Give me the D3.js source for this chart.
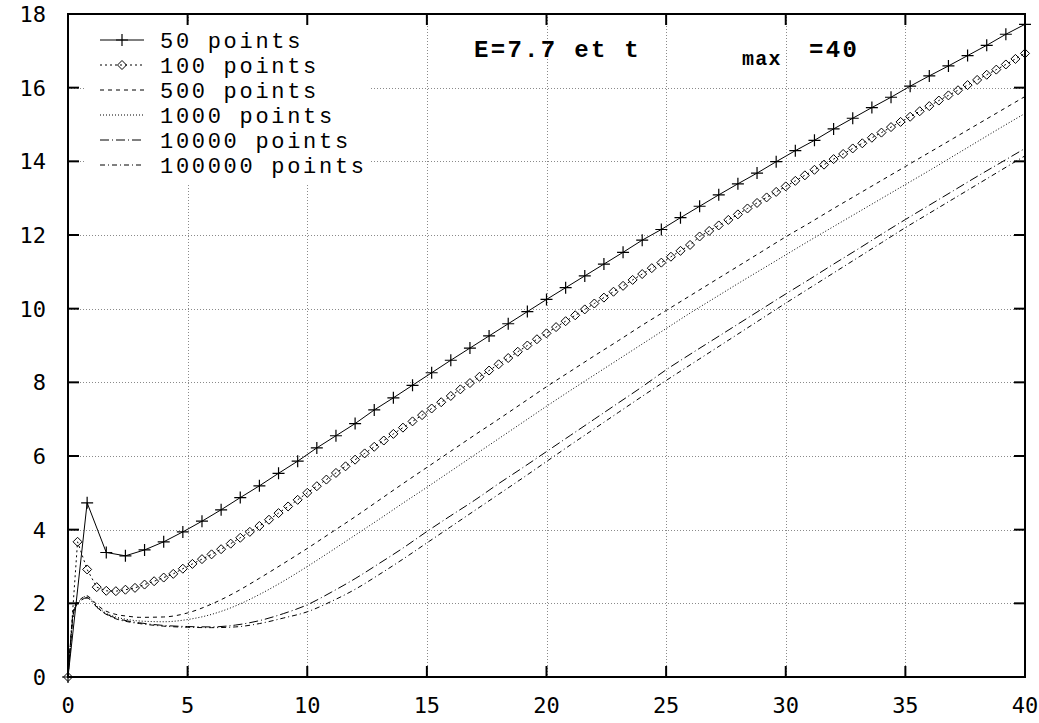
<!DOCTYPE html>
<html><head><meta charset="utf-8">
<script src="https://cdn.jsdelivr.net/npm/d3@7"></script>
<style>body{margin:0;background:#fff;overflow:hidden}</style>
</head><body><svg id="c" width="1039" height="723"></svg>
<script>
// ---- data ----
const xTicks = [0,5,10,15,20,25,30,35,40];
const yTicks = [0,2,4,6,8,10,12,14,16,18];
const seriesNames = ["50 points","100 points","500 points","1000 points","10000 points","100000 points"];
const titleMain = "E=7.7 et t";
const titleSub = "max";
const titleEnd = "=40";
const tMax = 40;

// 50 points series (51 samples, step tMax/50)
const y50 = [0,4.73,3.38,3.29,3.45,3.67,3.94,4.23,4.54,4.87,5.19,5.53,5.86,6.22,6.55,6.88,7.25,7.58,7.92,8.26,
  8.60,8.93,9.26,9.59,9.92,10.25,10.57,10.89,11.21,11.53,11.86,12.15,12.47,12.78,13.09,13.39,13.68,13.99,14.29,14.57,
  14.88,15.17,15.46,15.74,16.04,16.32,16.59,16.87,17.15,17.45,17.72];
// 100 points series (101 samples, step tMax/100)
const y100 = [0,3.67,2.92,2.44,2.34,2.33,2.37,2.42,2.51,2.60,2.70,2.80,2.94,3.07,3.20,3.33,3.47,3.62,3.78,3.94,
  4.10,4.27,4.45,4.63,4.81,5.00,5.18,5.36,5.54,5.72,5.90,6.07,6.25,6.42,6.60,6.77,6.94,7.11,7.29,7.46,
  7.63,7.81,7.98,8.15,8.32,8.49,8.66,8.83,9.00,9.17,9.33,9.50,9.66,9.82,9.98,10.14,10.30,10.46,10.62,10.78,
  10.94,11.10,11.25,11.41,11.57,11.73,11.96,12.11,12.26,12.41,12.56,12.72,12.87,13.02,13.17,13.32,13.47,13.62,13.77,13.91,
  14.06,14.20,14.35,14.49,14.64,14.78,14.93,15.07,15.21,15.36,15.50,15.65,15.79,15.93,16.07,16.21,16.35,16.49,16.63,16.78,16.93];

// smooth curves, read at these times
const tRead = [0,0.1,0.2,0.3,0.5,0.8,1,1.2,1.5,2,2.5,3,4,5,6,7,8,9,10,11,12,13,14,15,16,17,18,19,20,
  21,22,23,24,25,26,27,28,29,30,31,32,33,34,35,36,37,38,39,40];
const y500 = [0,0.9,1.7,1.95,2.1,2.2,2.1,1.97,1.82,1.7,1.65,1.62,1.63,1.74,1.98,2.3,2.68,3.08,3.49,3.92,4.35,4.8,5.25,5.69,
  6.13,6.57,7.0,7.44,7.88,8.3,8.72,9.13,9.55,9.95,10.35,10.75,11.15,11.55,11.95,12.33,12.72,13.1,13.48,13.86,14.24,14.62,15.0,15.38,15.76];
const y1000 = [0,0.85,1.65,1.92,2.08,2.2,2.08,1.93,1.77,1.63,1.56,1.52,1.5,1.56,1.7,1.93,2.24,2.6,3.0,3.42,3.85,4.28,4.72,5.15,
  5.59,6.03,6.47,6.91,7.35,7.78,8.2,8.62,9.04,9.46,9.88,10.28,10.68,11.07,11.46,11.85,12.23,12.61,12.99,13.37,13.75,14.14,14.53,14.92,15.3];
const y10000 = [0,0.85,1.6,1.88,2.05,2.15,2.05,1.9,1.75,1.6,1.52,1.47,1.4,1.37,1.36,1.41,1.53,1.72,1.96,2.3,2.67,3.08,3.5,3.95,
  4.38,4.8,5.25,5.68,6.12,6.56,7.0,7.44,7.88,8.34,8.76,9.17,9.58,9.99,10.4,10.8,11.21,11.61,12.02,12.42,12.81,13.2,13.59,13.97,14.35];
const y100000 = [0,0.85,1.6,1.88,2.05,2.15,2.05,1.9,1.74,1.58,1.5,1.45,1.38,1.35,1.34,1.36,1.45,1.6,1.77,2.05,2.38,2.78,3.2,3.64,
  4.08,4.52,4.96,5.4,5.85,6.3,6.74,7.18,7.62,8.05,8.47,8.89,9.31,9.73,10.15,10.56,10.97,11.38,11.79,12.2,12.59,12.98,13.37,13.76,14.15];

// ---- chart ----
const W = 1039, H = 723;
const L = 68, R = 1025, T = 14, B = 677;
const svg = d3.select("#c");
svg.append("rect").attr("width",W).attr("height",H).attr("fill","#fff");
const x = d3.scaleLinear().domain([0,40]).range([L,R]);
const y = d3.scaleLinear().domain([0,18]).range([B,T]);

// grid
const grid = svg.append("g").attr("stroke","#8a8a8a").attr("stroke-width",1).attr("stroke-dasharray","1,2");
xTicks.slice(1,-1).forEach(v=>grid.append("line").attr("x1",Math.round(x(v))+0.5).attr("x2",Math.round(x(v))+0.5).attr("y1",T).attr("y2",B));
yTicks.slice(1,-1).forEach(v=>grid.append("line").attr("y1",Math.round(y(v))+0.5).attr("y2",Math.round(y(v))+0.5).attr("x1",L).attr("x2",R));

// legend background (hides grid)
svg.append("rect").attr("x",86).attr("y",22).attr("width",283).attr("height",161).attr("fill","#fff");

// curves
const styles = [
  {dash:null},
  {dash:"2,3"},
  {dash:"4,4"},
  {dash:"1,2"},
  {dash:"9,3,1,3"},
  {dash:"5,3,1,3"}
];
const line = d3.line().x(d=>x(d[0])).y(d=>y(d[1]));
const smooth = d3.line().x(d=>x(d[0])).y(d=>y(d[1])).curve(d3.curveMonotoneX);
const d50 = y50.map((v,i)=>[i*tMax/(y50.length-1), v]);
const d100 = y100.map((v,i)=>[i*tMax/(y100.length-1), v]);
const smoothSets = [y500,y1000,y10000,y100000].map(a=>a.map((v,i)=>[tRead[i],v]));
const curves = svg.append("g").attr("fill","none").attr("stroke","#000").attr("stroke-width",1);
curves.append("path").attr("d",line(d50));
curves.append("path").attr("d",line(d100)).attr("stroke-dasharray",styles[1].dash);
smoothSets.forEach((s,k)=>curves.append("path").attr("d",smooth(s)).attr("stroke-dasharray",styles[k+2].dash));

function plus(g,cx,cy){ g.append("path").attr("d",`M${cx-6},${cy}H${cx+6}M${cx},${cy-6}V${cy+6}`).attr("stroke","#000").attr("fill","none").attr("stroke-width",1.2); }
function diamond(g,cx,cy){ g.append("path").attr("d",`M${cx},${cy-4.5}L${cx+4.5},${cy}L${cx},${cy+4.5}L${cx-4.5},${cy}Z`).attr("stroke","#000").attr("fill","none").attr("stroke-width",1); }
const mk = svg.append("g");
d50.forEach(d=>plus(mk,x(d[0]),y(d[1])));
d100.forEach(d=>diamond(mk,x(d[0]),y(d[1])));

// frame & ticks
const fr = svg.append("g").attr("stroke","#000").attr("stroke-width",2).attr("fill","none");
fr.append("rect").attr("x",L).attr("y",T).attr("width",R-L).attr("height",B-T);
xTicks.forEach(v=>{fr.append("line").attr("x1",x(v)).attr("x2",x(v)).attr("y1",B).attr("y2",B-11);
  fr.append("line").attr("x1",x(v)).attr("x2",x(v)).attr("y1",T).attr("y2",T+11);});
yTicks.forEach(v=>{fr.append("line").attr("y1",y(v)).attr("y2",y(v)).attr("x1",L).attr("x2",L+11);
  fr.append("line").attr("y1",y(v)).attr("y2",y(v)).attr("x1",R).attr("x2",R-11);});

// tick labels
const tf = "'DejaVu Sans Mono', monospace";
svg.append("g").selectAll("text").data(xTicks).join("text")
  .attr("x",d=>x(d)).attr("y",713).attr("text-anchor","middle")
  .attr("font-family",tf).attr("font-size",22).text(d=>d);
svg.append("g").selectAll("text").data(yTicks).join("text")
  .attr("x",46).attr("y",d=>y(d)+8).attr("text-anchor","end")
  .attr("font-family",tf).attr("font-size",22).text(d=>d);

// legend
const lf = "'Liberation Mono', 'Courier New', monospace";
const lg = svg.append("g");
seriesNames.forEach((n,i)=>{
  const cy = 40 + i*25;
  lg.append("line").attr("x1",100).attr("x2",144).attr("y1",cy).attr("y2",cy)
    .attr("stroke","#000").attr("stroke-width",1).attr("stroke-dasharray",styles[i].dash);
  if(i===0) plus(lg,122,cy);
  if(i===1) diamond(lg,122,cy);
  lg.append("text").attr("x",160).attr("y",cy+8).attr("font-family",lf).attr("font-size",22)
    .attr("letter-spacing",2.7).text(n);
});

// title
svg.append("text").attr("x",474).attr("y",57).attr("font-family",lf).attr("font-weight","bold").attr("font-size",24).attr("letter-spacing",2.3).text(titleMain);
svg.append("text").attr("x",742).attr("y",65).attr("font-family",lf).attr("font-weight","bold").attr("font-size",20).attr("letter-spacing",1.2).text(titleSub);
svg.append("text").attr("x",809).attr("y",57).attr("font-family",lf).attr("font-weight","bold").attr("font-size",24).attr("letter-spacing",2.3).text(titleEnd);
</script></body></html>
